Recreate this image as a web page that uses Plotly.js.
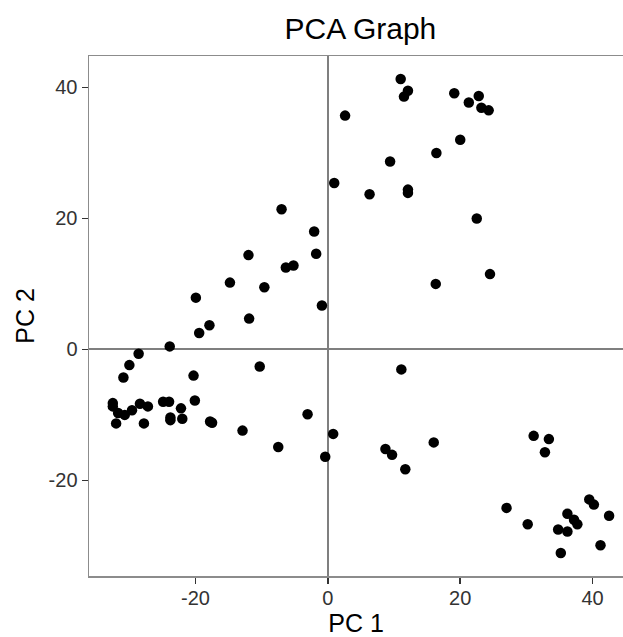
<!DOCTYPE html>
<html>
<head>
<meta charset="utf-8">
<script src="https://cdn.plot.ly/plotly-3.0.1.min.js"></script>
<style>html,body{margin:0;padding:0;background:#fff;}</style>
</head>
<body>
<div id="chart" style="width:623px;height:637px;"></div>
<script>
const pc1 = [
  -7.0, -2.07, 0.96,
  11.0, 12.1, 11.5, 2.6, 19.1, 21.3, 22.8, 23.2, 24.3, 20.0, 16.4, 9.4, 6.3, 12.1, 12.1, 22.5,
  -12.0, -1.77, -6.35, -5.2, -14.8, -9.6, -19.95, -0.9, -11.9, -17.9, -19.45, -23.9, -28.6, -30.0, -30.9, -10.3, -20.3,
  -32.5, -32.5, -31.7, -30.7, -29.6, -28.4, -27.2, -24.9, -24.0, -22.2, -20.1, -32.0, -27.8, -23.8, -23.8, -22.0, -17.8, -17.5, -12.9, -3.07, 0.8,
  -7.5, -0.4,
  16.3, 24.5, 11.1,
  8.7, 9.7, 11.7, 16.0, 31.1, 33.4, 32.8, 27.0, 30.2, 34.8, 36.2, 36.2, 37.2, 37.7, 39.5, 40.2, 42.5, 41.2, 35.2
];
const pc2 = [
  21.4, 18.0, 25.4,
  41.3, 39.5, 38.6, 35.7, 39.1, 37.7, 38.7, 36.9, 36.5, 32.0, 30.0, 28.7, 23.7, 24.4, 23.9, 20.0,
  14.4, 14.6, 12.5, 12.8, 10.2, 9.5, 7.9, 6.7, 4.7, 3.7, 2.5, 0.46, -0.66, -2.4, -4.3, -2.6, -4.0,
  -8.2, -8.7, -9.7, -10.0, -9.3, -8.3, -8.7, -8.0, -8.0, -9.0, -7.8, -11.3, -11.3, -10.4, -10.8, -10.6, -11.0, -11.2, -12.4, -9.9, -12.9,
  -14.9, -16.4,
  10.0, 11.5, -3.05,
  -15.2, -16.1, -18.3, -14.2, -13.2, -13.7, -15.7, -24.2, -26.7, -27.5, -27.8, -25.1, -26.0, -26.7, -22.9, -23.7, -25.4, -29.9, -31.1
];
const xTicks = [-20, 0, 20, 40];
const yTicks = [-20, 0, 20, 40];

const font = '"Liberation Sans", Arial, Helvetica, sans-serif';
const trace = {
  x: pc1, y: pc2, type: 'scatter', mode: 'markers',
  marker: {color: '#000000', size: 10.5},
  hoverinfo: 'x+y'
};
const axisCommon = {
  showgrid: false,
  zeroline: true,
  zerolinecolor: '#7f7f7f',
  zerolinewidth: 2,
  showline: true,
  linecolor: '#8c8c8c',
  linewidth: 1.5,
  mirror: true,
  ticks: 'outside',
  ticklen: 6,
  tickwidth: 1.5,
  tickcolor: '#333333',
  tickfont: {family: font, size: 20, color: '#333333'},
  tickmode: 'array'
};
const layout = {
  width: 623, height: 637,
  margin: {l: 89, r: 0, t: 56, b: 61},
  paper_bgcolor: '#ffffff', plot_bgcolor: '#ffffff',
  showlegend: false,
  title: {text: 'PCA Graph', font: {family: font, size: 30, color: '#000000'}, x: 0.5785, xanchor: 'center', y: 0.972, yanchor: 'top'},
  xaxis: Object.assign({}, axisCommon, {
    range: [-36.1, 44.6], tickvals: xTicks, ticktext: xTicks.map(String),
    ticklabelstandoff: -3,
    title: {text: 'PC 1', font: {family: font, size: 25, color: '#000000'}, standoff: 8}
  }),
  yaxis: Object.assign({}, axisCommon, {
    range: [-34.6, 44.8], tickvals: yTicks, ticktext: yTicks.map(String),
    title: {text: 'PC 2', font: {family: font, size: 25, color: '#000000'}, standoff: 7}
  })
};
Plotly.newPlot('chart', [trace], layout, {displayModeBar: false, staticPlot: true});
</script>
</body>
</html>
